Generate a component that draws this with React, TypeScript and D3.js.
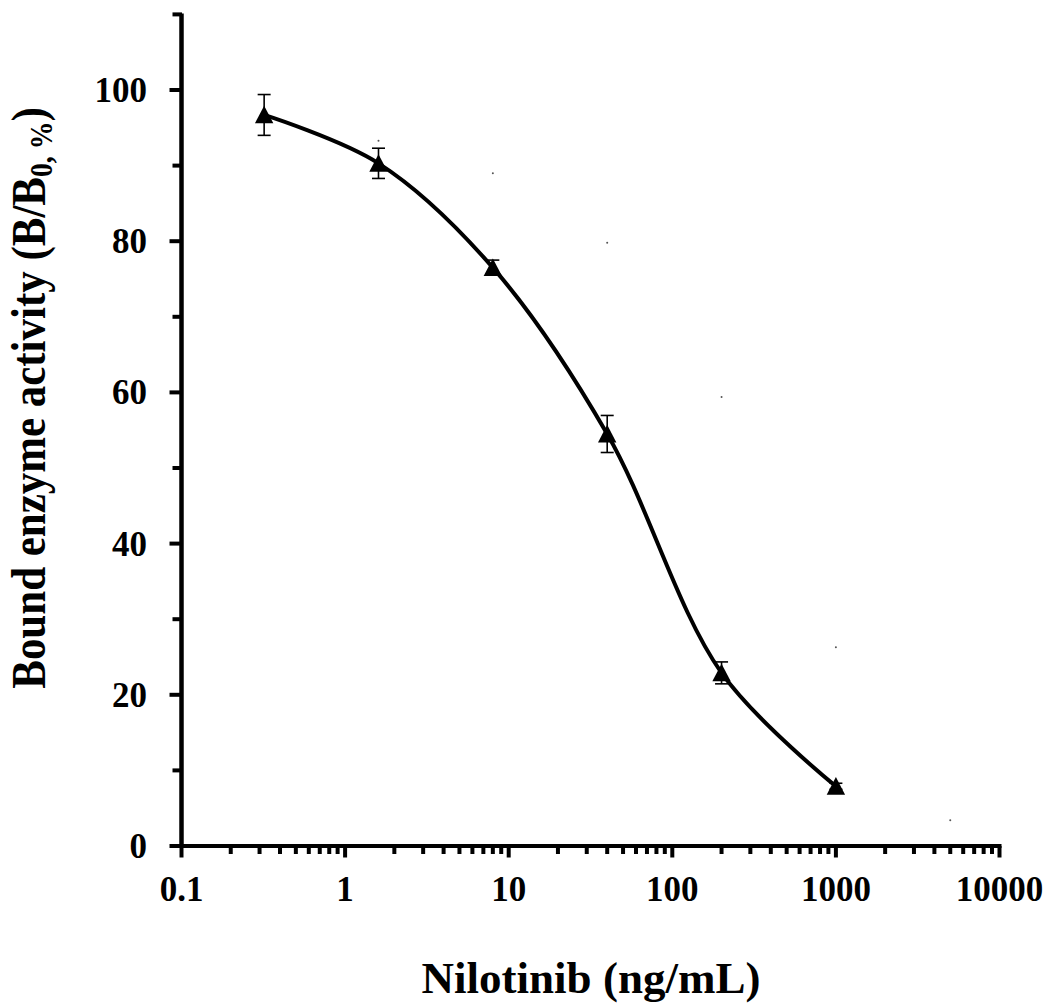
import React from "react";
import * as d3 from "d3";

const conc = [0.32, 1.6, 8, 40, 200, 1000];
const bound = [96.7, 90.3, 76.5, 54.5, 22.9, 7.9];
const sd = [2.7, 2.0, 1.0, 2.45, 1.45, 0.4];

const strayConc = [1.6, 8, 40, 200, 1000, 5000];
const strayVal = [93.3, 89.0, 79.8, 59.4, 26.3, 3.4];

const xTickValues = [0.1, 1, 10, 100, 1000, 10000];
const xTickLabels = ["0.1", "1", "10", "100", "1000", "10000"];
const yMajor = [0, 20, 40, 60, 80, 100];
const yMinor = [10, 30, 50, 70, 90, 110];

const FONT = "'Liberation Serif', 'Times New Roman', serif";

export default function App() {
  const x = d3.scaleLog().domain([0.1, 10000]).range([181.5, 999.5]);
  const y = d3.scaleLinear().domain([0, 110]).range([846, 14.4]);

  const minorX: number[] = [];
  for (let d = 0.1; d < 10000; d *= 10) {
    for (let k = 2; k <= 9; k++) minorX.push(+(d * k).toPrecision(3));
  }

  const pts: [number, number][] = conc.map((c, i) => [x(c), y(bound[i])]);
  const line = d3.line().curve(d3.curveCatmullRom.alpha(0.5))(pts) || "";

  const tri = "M0,-9.2L9.2,8.4L-9.2,8.4Z";

  return (
    <svg
      width={1051}
      height={1004}
      style={{ position: "absolute", left: 0, top: 0, background: "#fff" }}
    >
      <rect x={0} y={0} width={1051} height={1004} fill="#fff" />
      {/* axes */}
      <line x1={181.5} x2={181.5} y1={y(110) - 1} y2={y(0) + 2} stroke="#000" strokeWidth={4.5} />
      <line x1={179} x2={x(10000) + 2} y1={y(0)} y2={y(0)} stroke="#000" strokeWidth={4} />
      {yMajor.map((v) => (
        <line key={"ym" + v} x1={169.5} x2={182} y1={y(v)} y2={y(v)} stroke="#000" strokeWidth={4} />
      ))}
      {yMinor.map((v) => (
        <line key={"yn" + v} x1={172.5} x2={182} y1={y(v)} y2={y(v)} stroke="#000" strokeWidth={4} />
      ))}
      {xTickValues.map((v) => (
        <line key={"xm" + v} x1={x(v)} x2={x(v)} y1={y(0)} y2={857.5} stroke="#000" strokeWidth={4} />
      ))}
      {minorX.map((v) => (
        <line key={"xn" + v} x1={x(v)} x2={x(v)} y1={y(0)} y2={854} stroke="#000" strokeWidth={4} />
      ))}
      {/* tick labels */}
      {yMajor.map((v) => (
        <text
          key={"yl" + v}
          x={147}
          y={y(v) + 12}
          textAnchor="end"
          fontFamily={FONT}
          fontWeight="bold"
          fontSize={35}
        >
          {v}
        </text>
      ))}
      {xTickValues.map((v, i) => (
        <text
          key={"xl" + v}
          x={x(v)}
          y={900.5}
          textAnchor="middle"
          fontFamily={FONT}
          fontWeight="bold"
          fontSize={35}
        >
          {xTickLabels[i]}
        </text>
      ))}
      {/* axis titles */}
      <text
        x={591}
        y={993}
        textAnchor="middle"
        fontFamily={FONT}
        fontWeight="bold"
        fontSize={45}
      >
        Nilotinib (ng/mL)
      </text>
      <text
        transform={`translate(45,398) scale(1,0.895) rotate(-90)`}
        textAnchor="middle"
        fontFamily={FONT}
        fontWeight="bold"
        fontSize={48}
      >
        Bound enzyme activity (B/B
        <tspan fontSize={31} dy={7}>0, %</tspan>
        <tspan dy={-7}>)</tspan>
      </text>
      {/* stray dots */}
      {strayConc.map((c, i) => (
        <circle key={"s" + i} cx={x(c)} cy={y(strayVal[i])} r={1} fill="#555" />
      ))}
      {/* curve */}
      <path d={line} fill="none" stroke="#000" strokeWidth={4} />
      {/* error bars */}
      {conc.map((c, i) => {
        const cx = x(c);
        const t = y(bound[i] + sd[i]);
        const b = y(bound[i] - sd[i]);
        return (
          <g key={"e" + i} stroke="#000" strokeWidth={1.6}>
            <line x1={cx} x2={cx} y1={t} y2={b} />
            <line x1={cx - 6.5} x2={cx + 6.5} y1={t} y2={t} />
            <line x1={cx - 6.5} x2={cx + 6.5} y1={b} y2={b} />
          </g>
        );
      })}
      {/* markers */}
      {conc.map((c, i) => (
        <path
          key={"m" + i}
          d={tri}
          transform={`translate(${x(c)},${y(bound[i])})`}
          fill="#000"
        />
      ))}
    </svg>
  );
}
